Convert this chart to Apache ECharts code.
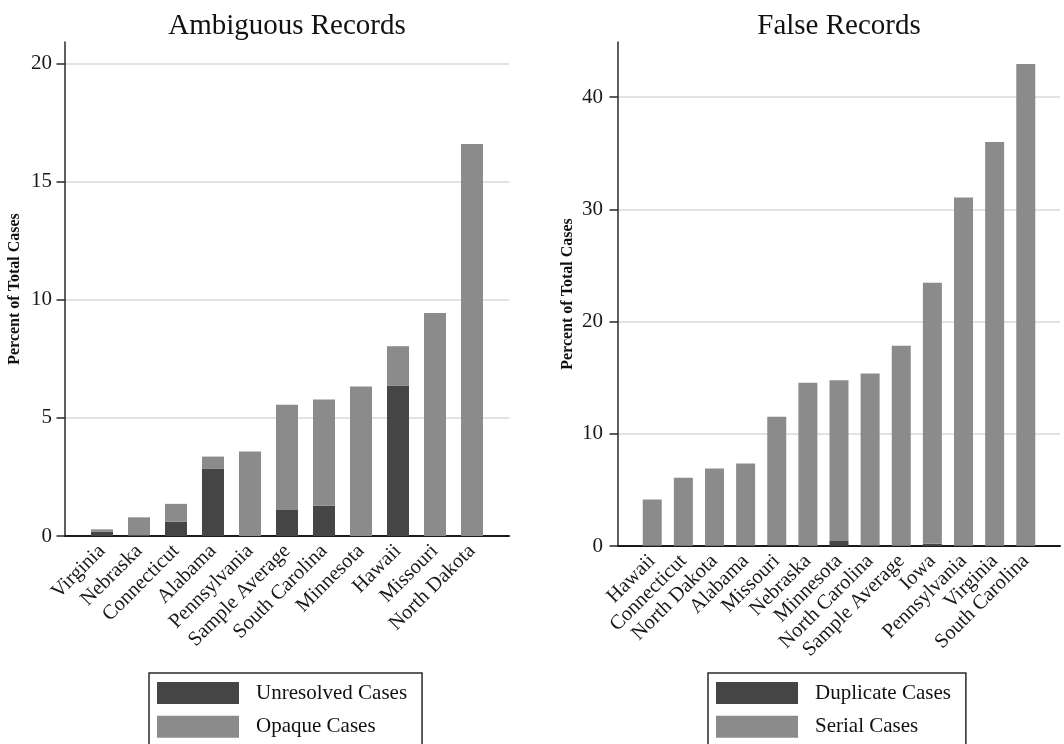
<!DOCTYPE html>
<html>
<head>
<meta charset="utf-8">
<script src="https://cdn.jsdelivr.net/npm/echarts@6/dist/echarts.min.js"></script>
<style>html,body{margin:0;padding:0;background:#fff}#c{width:1064px;height:744px}</style>
</head>
<body>
<div id="c"></div>
<script>
// Ambiguous Records
var ambCategories = ['Virginia','Nebraska','Connecticut','Alabama','Pennsylvania','Sample Average','South Carolina','Minnesota','Hawaii','Missouri','North Dakota'];
var unresolvedCases = [0.18, 0.03, 0.60, 2.84, 0, 1.10, 1.28, 0, 6.35, 0, 0];
var opaqueCases     = [0.10, 0.76, 0.76, 0.52, 3.58, 4.45, 4.49, 6.32, 1.68, 9.43, 16.58];
var ambTicks = [0, 5, 10, 15, 20];

// False Records
var falseCategories = ['Hawaii','Connecticut','North Dakota','Alabama','Missouri','Nebraska','Minnesota','North Carolina','Sample Average','Iowa','Pennsylvania','Virginia','South Carolina'];
var duplicateCases = [0.03, 0.03, 0.03, 0.05, 0.10, 0.03, 0.45, 0.05, 0.03, 0.20, 0.03, 0.03, 0.03];
var serialCases    = [4.11, 6.05, 6.87, 7.30, 11.42, 14.51, 14.31, 15.32, 17.82, 23.25, 31.02, 35.97, 42.92];
var falseTicks = [0, 10, 20, 30, 40];

// value first, category index second (so the stack runs on the value dimension)
function pairs(arr){ return arr.map(function(v,i){ return [v, i]; }); }
function idxList(n){ var a=[]; for(var i=0;i<n;i++) a.push(i); return a; }

var SERIF = '"Liberation Serif","Times New Roman",serif';
var DARK = '#454545', LIGHT = '#8b8b8b';

function xAxisFor(gridIndex, cats, min, max){
  return {
    type:'value', gridIndex:gridIndex, min:min, max:max,
    axisLine:{show:true, onZero:false, lineStyle:{color:'#1a1a1a', width:2}},
    axisTick:{show:false},
    splitLine:{show:false},
    axisLabel:{
      customValues: idxList(cats.length),
      rotate:45, margin:12, color:'#1a1a1a', fontFamily:SERIF, fontSize:20.5,
      formatter:function(v){ var i=Math.round(v); return (Math.abs(v-i)<1e-6 && cats[i]!==undefined)? cats[i] : ''; }
    }
  };
}
function yAxisFor(gridIndex, ticks, max, margin, gap){
  return {
    type:'value', gridIndex:gridIndex, min:0, max:max,
    interval: ticks[1]-ticks[0],
    name:'Percent of Total Cases', nameLocation:'middle', nameGap:gap,
    nameTextStyle:{fontFamily:SERIF, fontWeight:'bold', fontSize:16, color:'#111'},
    axisLine:{show:true, onZero:false, lineStyle:{color:'#2a2a2a', width:1.5}},
    axisTick:{show:true, customValues: ticks, length:8.5, lineStyle:{color:'#2a2a2a', width:1.5}},
    axisLabel:{
      customValues: ticks,
      color:'#1a1a1a', fontFamily:SERIF, fontSize:21, margin:margin
    },
    splitLine:{show:true, lineStyle:{color:'#e2e2e2', width:2}}
  };
}

function legendFor(names, left){
  return {data:names, orient:'vertical', left:left, top:673, height:120,
    itemWidth:82, itemHeight:22, itemGap:11.7, icon:'rect',
    padding:[9,15,20,8], borderColor:'#2a2a2a', borderWidth:1.5,
    textStyle:{fontFamily:SERIF, fontSize:21, color:'#111', padding:[0,0,0,12]}};
}
function barSeries(name, gi, stack, width, color, arr){
  return {name:name, type:'bar', xAxisIndex:gi, yAxisIndex:gi, stack:stack, barWidth:width,
    encode:{x:1, y:0}, itemStyle:{color:color}, data:pairs(arr)};
}

var chart = echarts.init(document.getElementById('c'), null, {renderer:'canvas'});
chart.setOption({
  backgroundColor:'#fff',
  animation:false,
  title:[
    {text:'Ambiguous Records', left:287, top:12, textAlign:'center', padding:0,
     textStyle:{fontFamily:SERIF, fontWeight:'normal', fontSize:29, color:'#111'}},
    {text:'False Records', left:839, top:12, textAlign:'center', padding:0,
     textStyle:{fontFamily:SERIF, fontWeight:'normal', fontSize:29, color:'#111'}}
  ],
  grid:[
    {left:65, right:555, top:42, bottom:208},
    {left:618, right:4, top:42, bottom:198}
  ],
  xAxis:[ xAxisFor(0, ambCategories, -1, 11), xAxisFor(1, falseCategories, -1.1, 13.1) ],
  yAxis:[ yAxisFor(0, ambTicks, 20.9, 13, 42), yAxisFor(1, falseTicks, 44.9, 15, 42) ],
  legend:[ legendFor(['Unresolved Cases','Opaque Cases'], 149), legendFor(['Duplicate Cases','Serial Cases'], 708) ],
  series:[
    barSeries('Unresolved Cases', 0, 'amb', 22, DARK, unresolvedCases),
    barSeries('Opaque Cases', 0, 'amb', 22, LIGHT, opaqueCases),
    barSeries('Duplicate Cases', 1, 'fal', 19, DARK, duplicateCases),
    barSeries('Serial Cases', 1, 'fal', 19, LIGHT, serialCases)
  ]
});
</script>
</body>
</html>
